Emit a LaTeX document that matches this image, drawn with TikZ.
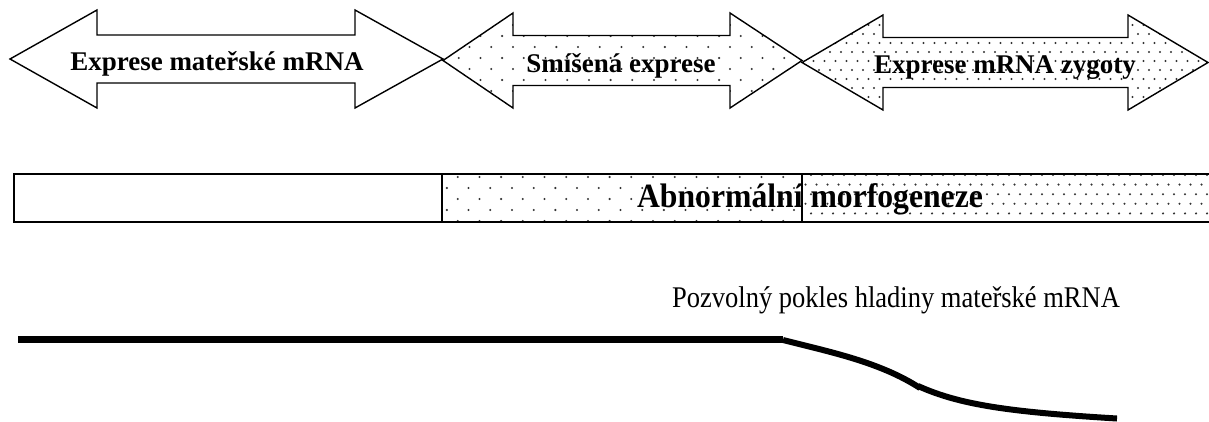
\documentclass[tikz,border=0pt]{standalone}
\usepackage{fontspec}
\setmainfont{Liberation Serif}
\usepackage{graphicx}
\newcommand\arrowpath[7]{(#1,#5) -- (#2,#5-#6) -- (#2,#5-#7) -- (#3,#5-#7) -- (#3,#5-#6) -- (#4,#5) -- (#3,#5+#6) -- (#3,#5+#7) -- (#2,#5+#7) -- (#2,#5+#6) -- cycle}
\newcommand\mydots[6]{%
  \pgfmathtruncatemacro\nr{(#4-#3)/#6}%
  \pgfmathtruncatemacro\nc{(#2-#1)/#5+1}%
  \foreach \i in {0,...,\nr}{%
    \foreach \j in {0,...,\nc}{%
      \pgfmathsetmacro\xx{#1+\j*#5+mod(\i,2)*#5/2}%
      \pgfmathsetmacro\yy{#3+\i*#6}%
      \fill[dotc] (\xx,\yy) circle[radius=1.15];
    }}}
\tikzset{
  dotc/.style={fill=black!80},
  arrowline/.style={draw=black, line width=1.4pt},
  barline/.style={draw=black, line width=1.7pt},
  arrowtext/.style={inner sep=0pt, anchor=base, font=\fontsize{27}{30}\selectfont\bfseries},
  levelline/.style={draw=black, line width=6pt},
}
\begin{document}
\begin{tikzpicture}[x=1pt,y=-1pt]
\useasboundingbox (0,0) rectangle (1209,421);
% arrow 1 (white)
\draw[arrowline, fill=white] \arrowpath{10}{97}{355}{443}{59}{49}{24};
% arrow 2 (sparse dots)
\begin{scope}
  \clip \arrowpath{443}{513}{730}{802}{60.5}{47.5}{25};
  \mydots{437}{805}{14}{110}{21.7}{11}
\end{scope}
\draw[arrowline] \arrowpath{443}{513}{730}{802}{60.5}{47.5}{25};
% arrow 3 (dense dots)
\begin{scope}
  \clip \arrowpath{802}{883}{1128}{1208}{62.5}{47.5}{25};
  \mydots{797}{1212}{16}{112}{11}{9}
\end{scope}
\draw[arrowline] \arrowpath{802}{883}{1128}{1208}{62.5}{47.5}{25};
\node[arrowtext] (t1) at (217,70) {Exprese mateřské mRNA};
\node[arrowtext] (t2) at (621,72) {Smíšená exprese};
\node[arrowtext] (t3) at (1005,73) {Exprese mRNA zygoty};
% bar
\begin{scope}
  \clip (442,174) rectangle (802,222);
  \mydots{436}{805}{177}{224}{21.7}{11}
\end{scope}
\begin{scope}
  \clip (802,174) rectangle (1209,222);
  \mydots{800}{1212}{175}{224}{11}{9.6}
\end{scope}
\coordinate (bl) at (14,174);
\coordinate (br) at (1209,174);
\coordinate (bbl) at (14,222);
\coordinate (bbr) at (1209,222);
\draw[barline] (br) -- (bl) -- (bbl) -- (bbr);
\draw[barline] (442,174) -- (442,222);
\draw[line width=1.3pt] (802,174) -- (802,222);
\node[inner sep=0pt, anchor=base, font=\fontsize{34}{36}\selectfont\bfseries] (t4) at (810,207) {\scalebox{0.932}[1]{Abnormální morfogeneze}};
% bottom text
\node[inner sep=0pt, anchor=base, font=\fontsize{30}{32}\selectfont] (t5) at (896,307) {\scalebox{0.884}[1]{Pozvolný pokles hladiny mateřské mRNA}};
% level line
\coordinate (l0) at (18,339);
\coordinate (l1) at (783,339);
\coordinate (l2) at (920,388);
\coordinate (l3) at (918,386);
\coordinate (l4) at (1117,418.5);
\draw[levelline, line width=7pt] (l0) -- (l1);
\draw[levelline] (783,340) .. controls (830,352) and (880,362) .. (l2);
\draw[levelline] (l3) .. controls (960,405) and (1010,412) .. (l4);
\end{tikzpicture}
\end{document}
